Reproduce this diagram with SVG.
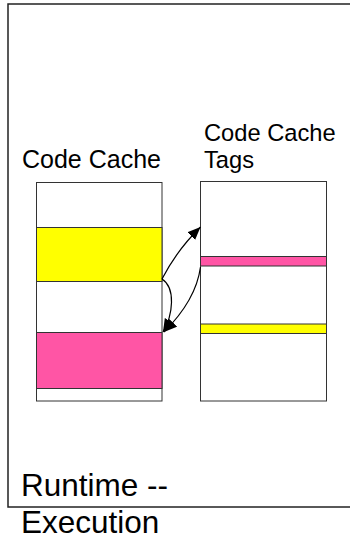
<svg xmlns="http://www.w3.org/2000/svg" width="350" height="540" viewBox="0 0 350 540">
  <style>
    .txt { font-family: "Liberation Sans", Arial, sans-serif; fill: #000; }
    .box { fill: #fff; stroke: #333; stroke-width: 1; }
    .yel { fill: #FFFF00; stroke: #333; stroke-width: 1; }
    .pnk { fill: #FF55A5; stroke: #333; stroke-width: 1; }
    .conn { fill: none; stroke: #000; stroke-width: 1.2; marker-end: url(#arrow); }
  </style>
  <defs>
    <marker id="arrow" markerUnits="userSpaceOnUse" markerWidth="14" markerHeight="12" refX="13" refY="5.5" orient="auto">
      <path d="M0,0 L13,5.5 L0,11 z" fill="#000"/>
    </marker>
  </defs>
  <rect width="350" height="540" fill="#fff"/>
  <g id="frame">
    <rect x="8" y="4" width="360" height="503" fill="none" stroke="#222" stroke-width="1.5"/>
    <text class="txt" x="21" y="496" font-size="31.5">Runtime --</text>
    <text class="txt" x="21" y="532.5" font-size="31.5">Execution</text>
  </g>
  <g id="code-cache">
    <text class="txt" x="22" y="168" font-size="25">Code Cache</text>
    <rect class="box" x="36.5" y="182.5" width="125.5" height="218.5"/>
    <rect class="yel" x="36.5" y="227.5" width="125.5" height="54"/>
    <rect class="pnk" x="36.5" y="332.5" width="125.5" height="56"/>
  </g>
  <g id="code-cache-tags">
    <text class="txt" x="204" y="141" font-size="23.7">Code Cache</text>
    <text class="txt" x="204" y="168" font-size="23.7">Tags</text>
    <rect class="box" x="200.5" y="181.5" width="126" height="219.5"/>
    <rect class="pnk" x="200.5" y="256.5" width="126" height="9.5"/>
    <rect class="yel" x="200.5" y="324" width="126" height="9.5"/>
  </g>
  <g id="connectors">
    <path class="conn" d="M162,279 Q177,250 200.5,227"/>
    <path class="conn" d="M162,279 C176,288 173,315 163,332"/>
    <path class="conn" d="M200.5,267 C197,293 182,314 164,332"/>
  </g>
</svg>
